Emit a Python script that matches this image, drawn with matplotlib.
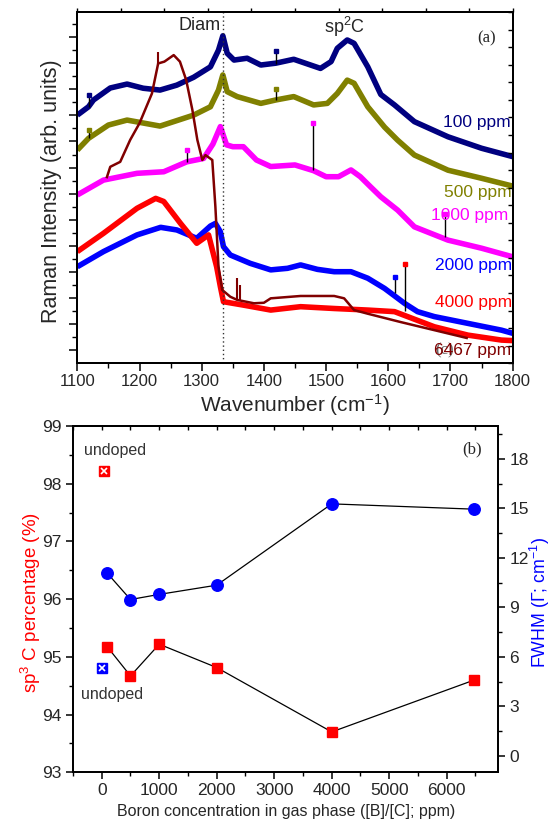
import numpy as np
import matplotlib
matplotlib.use("Agg")
import matplotlib.pyplot as plt
from matplotlib.ticker import MultipleLocator, FixedLocator

plt.rcParams['font.family'] = ['Liberation Sans', 'DejaVu Sans']
plt.rcParams['mathtext.fontset'] = 'custom'
plt.rcParams['mathtext.rm'] = 'Liberation Sans'
plt.rcParams['mathtext.default'] = 'regular'

# ---------------- Panel (a) data: Raman spectra (arb. units, offset) ----------------
wn_100 = [1100, 1118, 1126, 1153, 1180, 1206, 1233, 1260, 1287, 1314, 1327, 1334, 1341, 1352, 1373,
          1395, 1419, 1448, 1475, 1491, 1508, 1518, 1534, 1545, 1567, 1588, 1610, 1642, 1696, 1750, 1800]
int_100 = [9.51, 9.83, 10.09, 10.55, 10.70, 10.54, 10.47, 10.66, 10.96, 11.36, 12.0, 12.55, 11.88, 11.62, 11.69,
           11.43, 11.50, 11.65, 11.43, 11.30, 11.56, 12.07, 12.39, 12.26, 11.36, 10.3, 9.9, 9.26, 8.68, 8.24, 7.92]

wn_500 = [1100, 1118, 1150, 1180, 1233, 1287, 1314, 1327, 1334, 1341, 1357, 1395, 1419, 1448, 1480,
          1502, 1518, 1534, 1545, 1567, 1594, 1615, 1642, 1696, 1750, 1800]
int_500 = [8.17, 8.62, 9.13, 9.32, 9.09, 9.51, 9.83, 10.47, 11.05, 10.41, 10.22, 9.96, 10.09, 10.22, 9.90,
           9.96, 10.34, 10.85, 10.73, 9.83, 9.05, 8.55, 7.98, 7.40, 7.09, 6.79]

wn_1000 = [1100, 1142, 1196, 1239, 1276, 1303, 1318, 1330, 1340, 1350, 1367, 1388, 1411, 1450, 1480,
           1500, 1520, 1540, 1555, 1572, 1588, 1615, 1642, 1696, 1750, 1800]
int_1000 = [6.45, 7.02, 7.28, 7.34, 7.72, 7.85, 8.4, 9.07, 8.37, 8.30, 8.30, 7.79, 7.54, 7.60, 7.38,
            7.15, 7.15, 7.41, 7.15, 6.75, 6.38, 5.87, 5.23, 4.72, 4.41, 4.08]

wn_2000 = [1100, 1142, 1196, 1234, 1260, 1292, 1314, 1322, 1330, 1335, 1346, 1378, 1411, 1438, 1459,
           1486, 1513, 1540, 1567, 1594, 1612, 1626, 1647, 1674, 1701, 1728, 1782, 1800]
int_2000 = [3.70, 4.28, 4.92, 5.21, 5.11, 4.79, 5.26, 5.36, 5.04, 4.47, 4.15, 3.83, 3.58, 3.64, 3.77,
            3.60, 3.51, 3.51, 3.26, 2.87, 2.55, 2.30, 1.98, 1.79, 1.66, 1.53, 1.27, 1.15]

wn_4000 = [1100, 1142, 1196, 1226, 1239, 1266, 1292, 1311, 1324, 1330, 1335, 1367, 1411, 1459, 1513,
           1567, 1610, 1631, 1674, 1728, 1782, 1800]
int_4000 = [4.28, 4.98, 5.94, 6.32, 6.20, 5.36, 4.60, 4.92, 3.70, 2.94, 2.36, 2.23, 2.04, 2.17, 2.10,
            2.04, 1.98, 1.79, 1.40, 1.08, 0.89, 0.87]

wn_6467 = [1147, 1153, 1169, 1185, 1200, 1220, 1230, 1240, 1255, 1265, 1275, 1285, 1293, 1301, 1306,
           1317, 1322, 1327, 1333, 1346, 1357, 1384, 1400, 1411, 1459, 1513, 1529, 1545, 1567, 1620,
           1674, 1728]
int_6467 = [7.09, 7.53, 7.72, 8.56, 9.2, 10.34, 11.49, 11.56, 11.81, 11.56, 10.86, 9.71, 8.56, 7.79, 7.98,
            7.79, 6.0, 3.70, 2.81, 2.55, 2.43, 2.30, 2.32, 2.49, 2.58, 2.58, 2.49, 2.04, 1.90, 1.58,
            1.27, 0.96]

series_labels = ['100 ppm', '500 ppm', '1000 ppm', '2000 ppm', '4000 ppm', '6467 ppm']
series_colors = ['#000080', '#808000', '#ff00ff', '#0000ff', '#ff0000', '#800000']

# spikes (cosmic-ray like) : position, base, top
spike_wn = [1118, 1419, 1118, 1419, 1277, 1479, 1691, 1611, 1627, 1229, 1357, 1362]
spike_base = [9.83, 11.45, 8.62, 10.09, 7.70, 7.40, 4.85, 2.70, 2.00, 11.45, 2.43, 2.43]
spike_top = [10.30, 11.98, 8.95, 10.50, 8.17, 9.20, 5.74, 3.32, 3.80, 11.94, 3.26, 3.00]
spike_series = [0, 0, 1, 1, 2, 2, 2, 3, 4, 5, 5, 5]

diam_pos = 1335

# ---------------- Panel (b) data ----------------
boron_ppm = [100, 500, 1000, 2000, 4000, 6467]
sp3_percent = [95.17, 94.67, 95.22, 94.815, 93.70, 94.595]
fwhm = [11.06, 9.48, 9.79, 10.35, 15.28, 14.96]
undoped_x = [40, 0]
undoped_sp3 = 98.22
undoped_fwhm = 5.34

# ---------------- Figure ----------------
fig = plt.figure(figsize=(5.53, 8.19), dpi=100)
tick_col = '#262626'

ax1 = fig.add_axes([0.1398, 0.5564, 0.7873, 0.4289])
curves = [(wn_100, int_100), (wn_500, int_500), (wn_1000, int_1000),
          (wn_2000, int_2000), (wn_4000, int_4000), (wn_6467, int_6467)]
for i, (x, y) in enumerate(curves):
    lw = 1.8 if i == 5 else 4.0
    ax1.plot(x, y, color=series_colors[i], lw=lw, solid_joinstyle='round',
             solid_capstyle='butt', zorder=3 + (0.5 if i == 5 else 0))

for w, b, t, s in zip(spike_wn, spike_base, spike_top, spike_series):
    if s == 5:
        ax1.vlines(w, b, t, color=series_colors[s], lw=1.5, zorder=4)
    else:
        ax1.vlines(w, b, t, color='black', lw=1.0, zorder=4)
        ax1.plot([w], [t], marker='s', ms=3.5, color=series_colors[s], zorder=5)

ax1.axvline(diam_pos, color='#333333', ls=(0, (1, 2)), lw=1.0, zorder=6)

ax1.set_xlim(1100, 1800)
ax1.set_ylim(0, 13.46)
ax1.xaxis.set_major_locator(MultipleLocator(100))
ax1.xaxis.set_minor_locator(MultipleLocator(50))
ax1.yaxis.set_major_locator(FixedLocator(np.arange(0.5, 13.5, 1.0)))
ax1.yaxis.set_minor_locator(FixedLocator(np.arange(1.0, 13.5, 1.0)))
ax1.tick_params(axis='x', which='major', direction='out', length=6, width=1.1,
                labelsize=12, labelcolor=tick_col, top=False, pad=2)
ax1.tick_params(axis='x', which='minor', direction='out', length=3.5, width=1.0, top=False)
ax1.tick_params(axis='y', which='major', direction='out', length=6, width=1.1, labelleft=False, right=False)
ax1.tick_params(axis='y', which='minor', direction='out', length=3.5, width=1.0, right=False)
for sp in ax1.spines.values():
    sp.set_linewidth(1.3)

ax1.set_xlabel('Wavenumber (cm$^{-1}$)', fontsize=15, color=tick_col, labelpad=2)
ax1.set_ylabel('Raman Intensity (arb. units)', fontsize=15.5, color=tick_col)
ax1.yaxis.set_label_coords(-0.035, 0.49)

axt = ax1.twiny()
axt.set_xlim(0, 10)
axt.set_xticks(range(11))
axt.tick_params(axis='x', direction='out', length=3, width=1.0, labeltop=False)
axr = ax1.twinx()
axr.set_ylim(0, 20)
axr.set_yticks(range(21))
axr.tick_params(axis='y', direction='in', length=3.5, width=1.0, labelright=False)
for a in (axt, axr):
    for sp in a.spines.values():
        sp.set_linewidth(1.3)

label_y = [9.22, 6.54, 5.66, 3.74, 2.34, 0.48]
label_x = [1796, 1798, 1793, 1799, 1799, 1798]
ax1.text(1690, 0.48, '(c)', family='Liberation Serif', fontsize=12, color='#666666',
         ha='center', va='center', zorder=6)
for i, lab in enumerate(series_labels):
    ax1.text(label_x[i], label_y[i], lab, color=series_colors[i], fontsize=12.5,
             ha='right', va='center', zorder=7)

ax1.text(1331, 12.96, 'Diam', fontsize=13, color=tick_col, ha='right', va='center')
ax1.text(1529, 12.9, 'sp$^2$C', fontsize=13, color=tick_col, ha='center', va='center')
ax1.text(1758, 12.45, '(a)', family='Liberation Serif', fontsize=12, color=tick_col,
         ha='center', va='center')

# ---------------- Panel (b) ----------------
ax2 = fig.add_axes([0.1320, 0.0570, 0.7694, 0.4228])
ax2r = ax2.twinx()

ax2.plot(boron_ppm, sp3_percent, color='black', lw=0.9, zorder=2)
ax2.plot(boron_ppm, sp3_percent, ls='none', marker='s', ms=7.5, color='#ff0000', zorder=3)
ax2r.plot(boron_ppm, fwhm, color='black', lw=0.9, zorder=2)
ax2r.plot(boron_ppm, fwhm, ls='none', marker='o', ms=8.3, color='#0000ff', zorder=3)

ax2.plot([undoped_x[0]], [undoped_sp3], ls='none', marker='s', ms=6.5, color='#ff0000', zorder=3)
ax2.plot([undoped_x[0]], [undoped_sp3], ls='none', marker='x', ms=4, mew=1.2, color='white', zorder=4)
ax2r.plot([undoped_x[1]], [undoped_fwhm], ls='none', marker='s', ms=6.5, color='#0000ff', zorder=3)
ax2r.plot([undoped_x[1]], [undoped_fwhm], ls='none', marker='x', ms=4, mew=1.2, color='white', zorder=4)

ax2.set_xlim(-500, 6900)
ax2.set_ylim(93, 99)
ax2r.set_ylim(-1, 20)
ax2.xaxis.set_major_locator(MultipleLocator(1000))
ax2.xaxis.set_minor_locator(MultipleLocator(500))
ax2.yaxis.set_major_locator(MultipleLocator(1))
ax2.yaxis.set_minor_locator(MultipleLocator(0.5))
ax2r.yaxis.set_major_locator(FixedLocator(np.arange(0, 19, 3)))
ax2r.yaxis.set_minor_locator(FixedLocator(np.arange(1.5, 20, 3)))
ax2.tick_params(which='major', direction='out', length=5, width=1.1, labelsize=12.5,
                labelcolor=tick_col, pad=3)
ax2.tick_params(which='minor', direction='out', length=3, width=1.0)
ax2r.tick_params(which='major', direction='out', length=5, width=1.1, labelsize=12.5,
                 labelcolor=tick_col, pad=3)
ax2r.tick_params(which='minor', direction='out', length=3, width=1.0)
sec = ax2.secondary_xaxis('top')
sec.set_xticks(np.arange(-500, 7000, 500), labels=[])
sec.tick_params(direction='in', length=3, width=1.0)
for a in (ax2, ax2r):
    for sp in a.spines.values():
        sp.set_linewidth(1.3)
sec.spines['top'].set_linewidth(1.3)

ax2.set_xlabel('Boron concentration in gas phase ([B]/[C]; ppm)', fontsize=11.5,
               color=tick_col, labelpad=4)
ax2.set_ylabel('sp$^3$ C percentage (%)', fontsize=13.5, color='#ff0000')
ax2.yaxis.set_label_coords(-0.07, 0.49)
ax2r.set_ylabel('FWHM (Γ; cm$^{-1}$)', fontsize=12.8, color='#0000ff', rotation=90)
ax2r.yaxis.set_label_coords(1.068, 0.49)

ax2.text(228, 98.57, 'undoped', fontsize=11.5, color='#333333', ha='center', va='center')
ax2.text(179, 94.34, 'undoped', fontsize=11.5, color='#333333', ha='center', va='center')
ax2.text(6445, 98.6, '(b)', family='Liberation Serif', fontsize=12, color=tick_col,
         ha='center', va='center')

fig.savefig('out.png', dpi=100)
